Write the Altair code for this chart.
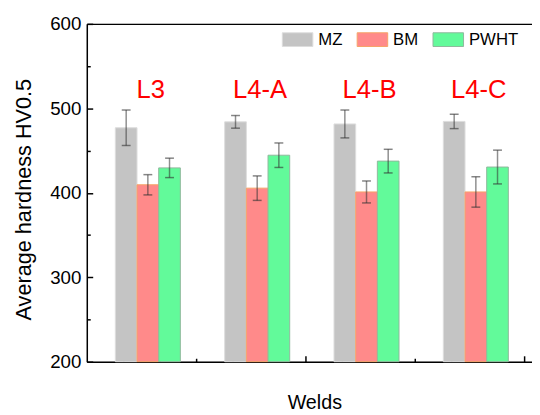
import altair as alt
import pandas as pd

groups = ["L3", "L4-A", "L4-B", "L4-C"]
zones = ["MZ", "BM", "PWHT"]
mz_mean = [477, 484, 481.5, 484.5]
mz_err = [21, 7.5, 16.5, 8.5]
bm_mean = [409.5, 405.5, 401, 401]
bm_err = [12, 14.5, 13, 18]
pwht_mean = [429.5, 444.5, 437.5, 430.5]
pwht_err = [11.5, 14.5, 14, 20]
y_values = [200, 250, 300, 350, 400, 450, 500, 550, 600]
x_tick_values = [0.5, 1, 1.5, 2, 2.5, 3, 3.5, 4, 4.5, 5, 5.5, 6]
fills = ["#c4c4c4", "#ff8a8a", "#62fa9a"]
strokes = ["#dcdcdc", "#f6a468", "#8fb89c"]

rows = []
for z, means, errs in zip(zones, [mz_mean, bm_mean, pwht_mean], [mz_err, bm_err, pwht_err]):
    for g, m, e in zip(groups, means, errs):
        rows.append({"group": g, "zone": z, "value": m, "lo": m - e, "hi": m + e})
df = pd.DataFrame(rows)
lab = pd.DataFrame({"group": groups})

FONT = "Liberation Sans"
W, H = 452, 343

xband = alt.Scale(domain=groups, paddingInner=0.4054, paddingOuter=0.2387, align=0.547, round=False)
yscale = alt.Scale(domain=[200, 600], nice=False, zero=False)


def xoff():
    return alt.XOffset("zone:N", sort=zones, scale=alt.Scale(domain=zones, paddingInner=0, paddingOuter=0))


x_main = alt.X("group:N", scale=xband, sort=groups,
               axis=alt.Axis(title="Welds", labels=False, ticks=False, domain=True,
                             domainColor="black", domainWidth=1.5, titleFontSize=20,
                             titleFontWeight="normal", titleFont=FONT, titleColor="black",
                             titlePadding=32, titleX=231))

y_axis = alt.Axis(title="Average hardness HV0.5", values=y_values,
                  labelExpr="datum.value % 100 === 0 ? datum.label : ''",
                  tickSize={"expr": "datum.value % 100 === 0 ? -6 : -3.5"},
                  tickColor="black", tickWidth=1.5, domainColor="black", domainWidth=1.5,
                  labelFontSize=19, labelFont=FONT, labelColor="black", labelPadding=12,
                  labelFlush=False, titleFontSize=22, titleFontWeight="normal",
                  titleFont=FONT, titleColor="black", titlePadding=14, titleY=178, grid=False)

leg = alt.Legend(orient="none", legendX=198, legendY=0, direction="horizontal", title=None,
                 symbolType="M-1,-0.45L1,-0.45L1,0.45L-1,0.45Z", symbolSize=961,
                 labelFontSize=17, labelFont=FONT, labelColor="black", labelOffset=5,
                 columnPadding=12, padding=0, symbolStrokeWidth=1, symbolOpacity=1)

bars = alt.Chart(df).mark_bar(strokeWidth=1, opacity=1).encode(
    x=x_main,
    xOffset=xoff(),
    y=alt.Y("value:Q", scale=yscale, axis=y_axis),
    y2=alt.datum(200),
    color=alt.Color("zone:N", sort=zones, scale=alt.Scale(domain=zones, range=fills), legend=leg),
    stroke=alt.Stroke("zone:N", sort=zones, scale=alt.Scale(domain=zones, range=strokes), legend=leg),
)

err = alt.Chart(df).mark_rule(color="#333333", opacity=0.55, strokeWidth=1.5).encode(
    x=x_main, xOffset=xoff(),
    y=alt.Y("lo:Q", scale=yscale, axis=y_axis), y2="hi:Q",
)
cap_hi = alt.Chart(df).mark_tick(orient="horizontal", size=9, thickness=1.5,
                                 color="#333333", opacity=0.6).encode(
    x=x_main, xOffset=xoff(), y=alt.Y("hi:Q", scale=yscale, axis=y_axis))
cap_lo = alt.Chart(df).mark_tick(orient="horizontal", size=9, thickness=1.5,
                                 color="#333333", opacity=0.6).encode(
    x=x_main, xOffset=xoff(), y=alt.Y("lo:Q", scale=yscale, axis=y_axis))

txt = alt.Chart(lab).mark_text(fontSize=26, color="#ff0000", font=FONT,
                               baseline="alphabetic", dx=3).encode(
    x=x_main, y=alt.datum(512), text="group:N")

main = alt.layer(bars, err, cap_hi, cap_lo, txt)

tick_layer = alt.Chart(lab).mark_rule(opacity=0).encode(
    x=alt.XDatum(0, type="quantitative",
                 scale=alt.Scale(domain=[0, 6.108], nice=False, zero=False),
                 axis=alt.Axis(orient="bottom", values=x_tick_values, labels=False, title=None,
                               domain=False, grid=False, tickColor="black", tickWidth=1.5,
                               tickSize={"expr": "datum.value % 1 === 0 ? -6 : -3.5"})))

top_layer = alt.Chart(lab).mark_rule(opacity=0).encode(
    x=alt.XDatum(0, type="quantitative",
                 scale=alt.Scale(domain=[0, 6.108], nice=False, zero=False),
                 axis=alt.Axis(orient="top", labels=False, ticks=False, title=None,
                               domain=True, domainColor="black", domainWidth=1.5, grid=False)))

chart = alt.layer(main, tick_layer, top_layer).resolve_scale(x="independent").resolve_axis(
    x="independent").properties(
    width=W, height=H, padding={"left": 5, "top": 4, "right": 0, "bottom": 0}
).configure_view(stroke=None).configure(font=FONT)

chart.save("out.html", embed_options={"renderer": "svg", "actions": False})
